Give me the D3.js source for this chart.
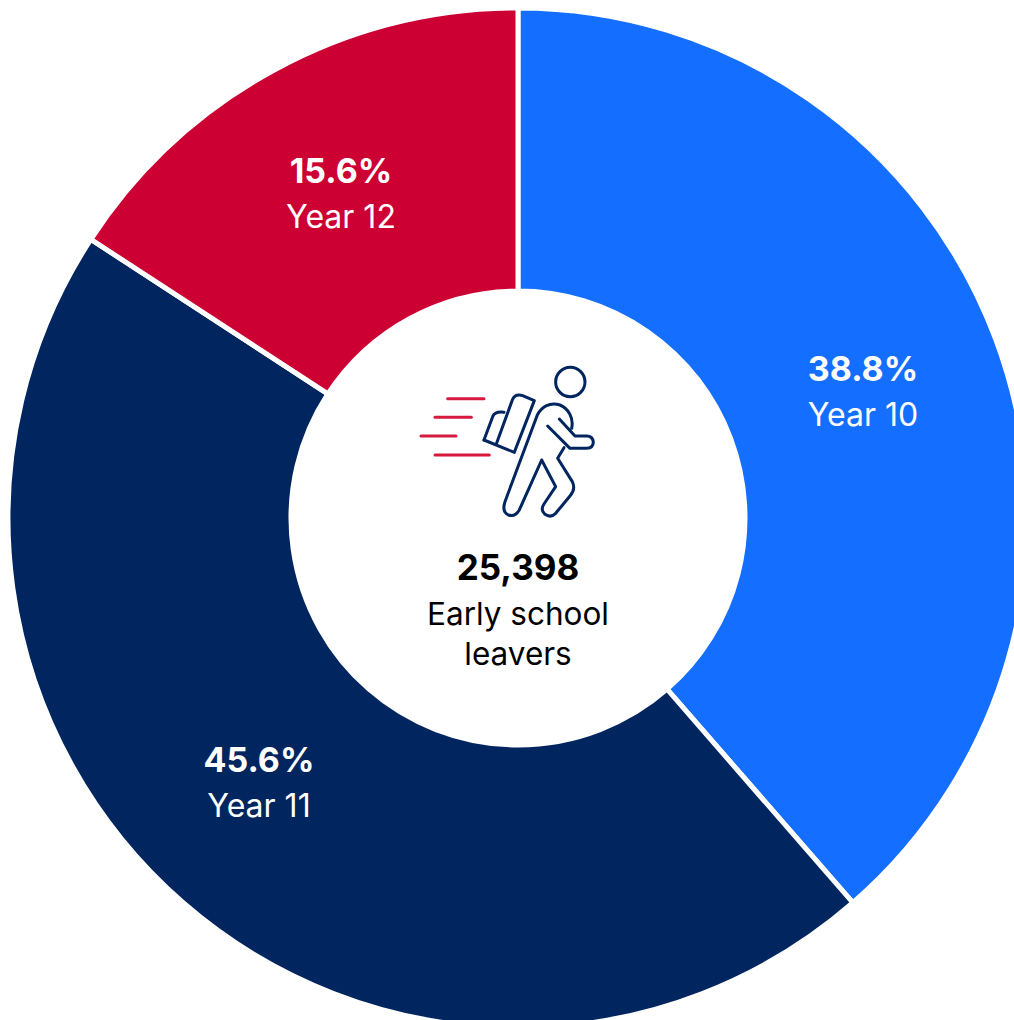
<!DOCTYPE html>
<html><head><meta charset="utf-8">
<script src="https://cdn.jsdelivr.net/npm/d3@7"></script>
<style>html,body{margin:0;padding:0;background:#fff;overflow:hidden}svg{display:block}text{font-family:Inter,"Noto Sans",sans-serif}</style>
</head><body><svg id="c" width="1014" height="1020"></svg>
<script>
const categories = ["Year 10", "Year 11", "Year 12"];
const percentLabels = ["38.8%", "45.6%", "15.6%"];
const drawnShares = [38.6, 45.6, 15.8];
const sliceColors = ["#146EFF", "#00255F", "#CC0033"];
const centerValue = "25,398";
const centerLines = ["Early school", "leavers"];

const svg = d3.select("#c");
const cx = 518, cy = 518, outer = 510, inner = 227;
const root = svg.append("g").attr("transform", `translate(${cx},${cy})`);
const pie = d3.pie().sort(null)(drawnShares);
const arc = d3.arc().innerRadius(inner).outerRadius(outer);
root.selectAll("path.s").data(pie).join("path").attr("class","s")
  .attr("d", arc).attr("fill", (d,i)=>sliceColors[i])
  .attr("stroke","#fff").attr("stroke-width",5);

const labelAnchors = [[345,-137],[-259,254],[-177,-335]];
categories.forEach((c,i)=>{
  const g = root.append("g").attr("transform",`translate(${labelAnchors[i]})`);
  g.append("text").attr("text-anchor","middle").attr("y",0).attr("fill","#fff")
    .attr("font-size",34).attr("font-weight",700).text(percentLabels[i]);
  g.append("text").attr("text-anchor","middle").attr("y",45).attr("fill","#fff")
    .attr("font-size",32).text(c);
});

root.append("text").attr("text-anchor","middle").attr("y",62).attr("fill","#000")
  .attr("font-size",35).attr("font-weight",700).text(centerValue);
centerLines.forEach((t,i)=>root.append("text").attr("text-anchor","middle")
  .attr("y",107+i*40).attr("fill","#000").attr("font-size",31.5).text(t));

// running student icon
const icon = svg.append("g").attr("transform","translate(400,350) scale(0.3333)")
  .attr("fill","none").attr("stroke-linecap","round").attr("stroke-linejoin","round");
const streaks = ["M143,146H252","M105,202H214","M63,258H168","M105,315H268"];
icon.selectAll("path.r").data(streaks).join("path").attr("class","r").attr("d",d=>d)
  .attr("stroke","#D8193F").attr("stroke-width",9);
const navy = "#00255F";
icon.append("circle").attr("cx",511).attr("cy",96).attr("r",44).attr("stroke",navy).attr("stroke-width",9);
const figure = [
 "M252,270L278,200Q285,183 312,187",
 "M252,270L343,307L403,152L368,137Q345,130 337,150L289,282",
 "M443,228L510,295H560Q580,294 580,276Q578,258 560,258H525L478,207",
 "M515,235C522,205 505,175 480,165C450,155 425,170 412,195L315,455Q305,485 325,495Q345,502 358,480L425,330L467,410L432,462Q420,480 435,493Q452,505 467,490L510,438Q528,418 517,395L473,325L492,293"
];
icon.selectAll("path.n").data(figure).join("path").attr("class","n").attr("d",d=>d)
  .attr("stroke",navy).attr("stroke-width",9);
</script></body></html>
